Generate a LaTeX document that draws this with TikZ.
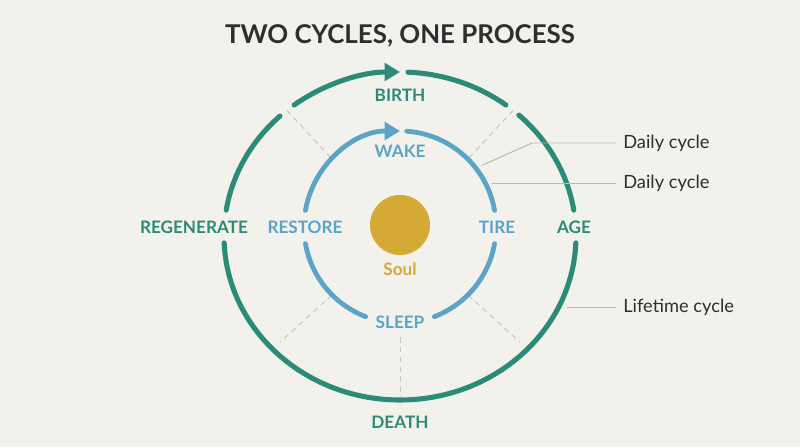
\documentclass[tikz,border=0pt]{standalone}
\usepackage{fontspec}
\setmainfont{Lato}
\usetikzlibrary{arrows.meta, positioning}
\definecolor{paper}{HTML}{F2F1EB}
\definecolor{lifecol}{HTML}{2B8B78}
\definecolor{daycol}{HTML}{5CA3C8}
\definecolor{soulcol}{HTML}{D4AA34}
\definecolor{inkcol}{HTML}{2B2F31}
\definecolor{guidecol}{HTML}{C9C6BC}
\definecolor{leadcol}{HTML}{B9B8B1}

\begin{document}
\begin{tikzpicture}[x=0.025cm, y=0.025cm, >={Triangle[length=11pt, width=12.5pt]},
    lifearc/.style={draw=lifecol, line width=3.6pt, line cap=round},
    dayarc/.style={draw=daycol, line width=3.4pt, line cap=round},
    guide/.style={draw=guidecol, line width=0.7pt, dash pattern=on 4pt off 3pt},
    leader/.style={draw=leadcol, line width=0.7pt},
    phase/.style={font=\bfseries\fontsize{12.2}{14}\selectfont, anchor=base, inner sep=0pt},
    note/.style={font=\fontsize{13}{15}\selectfont, text=inkcol, anchor=west, inner xsep=5pt, inner ysep=0pt}]
    \useasboundingbox[fill=paper] (-400,-220) rectangle (400,227);

    \node[anchor=base, inner sep=0pt, text=inkcol, font=\bfseries\fontsize{18.4}{21}\selectfont] (title) at (0,183) {TWO CYCLES, ONE PROCESS};

    % dashed spokes
    \draw[guide] ([shift={(0,-9)}]130:176 and 164) -- (135:96);
    \draw[guide] ([shift={(0,-9)}]50:176 and 164) -- (45:96);
    \draw[guide] (225:96) -- (-120,-115);
    \draw[guide] (-45:96) -- (120,-115);
    \draw[guide] (0,-110) -- (0,-170);

    % lifetime cycle
    \draw[lifearc, ->] ([shift={(0,-9)}]127:176 and 164) arc[start angle=127, end angle=90, x radius=176, y radius=164];
    \draw[lifearc] ([shift={(0,-9)}]87.4:176 and 164) arc[start angle=87.4, end angle=53, x radius=176, y radius=164];
    \draw[lifearc] ([shift={(0,-9)}]47.5:176 and 164) arc[start angle=47.5, end angle=9.1, x radius=176, y radius=164];
    \draw[lifearc] ([shift={(0,-9)}]-2.4:176 and 164) arc[start angle=-2.4, end angle=-177.6, x radius=176, y radius=164];
    \draw[lifearc] ([shift={(0,-9)}]170.9:176 and 164) arc[start angle=170.9, end angle=133, x radius=176, y radius=164];

    % daily cycle
    \draw[dayarc, ->] (170:96) arc[start angle=170, end angle=90, radius=96];
    \draw[dayarc] (86:96) arc[start angle=86, end angle=10, radius=96];
    \draw[dayarc] (-10:96) arc[start angle=-10, end angle=-69, radius=96];
    \draw[dayarc] (249:96) arc[start angle=249, end angle=190, radius=96];

    \node[circle, fill=soulcol, minimum size=60*0.025cm, inner sep=0pt] (soul) at (0,2) {};
    \node[phase, anchor=north, text=soulcol, below=5pt of soul] (soulname) {Soul};

    \node[phase, text=lifecol] (birth) at (0,125) {BIRTH};
    \node[phase, text=lifecol] (regenerate) at (-206,-6) {REGENERATE};
    \node[phase, text=lifecol] (age) at (174,-6) {AGE};
    \node[phase, text=lifecol] (death) at (0,-201) {DEATH};
    \node[phase, text=daycol] (wake) at (0,70) {WAKE};
    \node[phase, text=daycol] (restore) at (-95,-6) {RESTORE};
    \node[phase, text=daycol] (tire) at (97,-6) {TIRE};
    \node[phase, text=daycol] (sleep) at (0,-101) {SLEEP};

    \node[note] (daily1) at (216,84) {Daily cycle};
    \node[note] (daily2) at (216,44) {Daily cycle};
    \node[note] (lifetime) at (216,-80) {Lifetime cycle};

    \coordinate (tipA) at (37:102);
    \coordinate (tipB) at (92,44);
    \coordinate (tipC) at (167,-80);
    \draw[leader] (daily1.west) -- ++(-84,0) -- (tipA);
    \draw[leader] (daily2.west) -- (tipB);
    \draw[leader] (lifetime.west) -- (tipC);
\end{tikzpicture}
\end{document}
